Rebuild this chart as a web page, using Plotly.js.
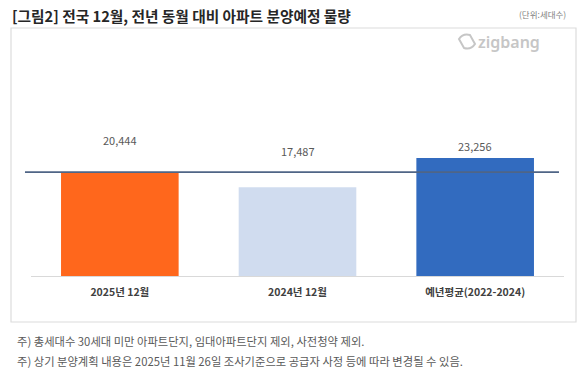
<!DOCTYPE html>
<html>
<head>
<meta charset="utf-8">
<script src="https://cdn.plot.ly/plotly-3.0.1.min.js"></script>
<style>html,body{margin:0;padding:0;background:#fff;}#chart{width:580px;height:372px;}</style>
</head>
<body>
<div id="chart"></div>
<script>
const categories = ["2025년 12월", "2024년 12월", "예년평균(2022-2024)"];
const values = [20444, 17487, 23256];
const valueLabels = ["20,444", "17,487", "23,256"];
const titleText = "[그림2] 전국 12월, 전년 동월 대비 아파트 분양예정 물량";
const unitText = "(단위:세대수)";
const notes = [
  "주) 총세대수 30세대 미만 아파트단지, 임대아파트단지 제외, 사전청약 제외.",
  "주) 상기 분양계획 내용은 2025년 11월 26일 조사기준으로 공급자 사정 등에 따라 변경될 수 있음."
];

const barColors = ["#FF671C", "#D0DCEF", "#326BBF"];
const labelShift = [30, 34, 10];
const FONT = "'Noto Sans CJK KR', 'Noto Sans', sans-serif";

const trace = {
  type: "bar",
  x: categories,
  y: values,
  marker: {color: barColors, line: {width: 0}},
  hoverinfo: "skip",
  showlegend: false
};

const annotations = categories.map((c, i) => ({
  x: c, y: values[i], xref: "x", yref: "y",
  text: valueLabels[i], showarrow: false,
  yanchor: "bottom", yshift: labelShift[i] - 8,
  font: {family: FONT, size: 11, color: "#595959"}
}));

annotations.push(
  {xref: "paper", yref: "paper", x: 0, y: 1, xanchor: "left", yanchor: "middle",
   text: "<b>" + titleText + "</b>", showarrow: false,
   font: {family: FONT, size: 14.7, color: "#262626"}},
  {xref: "paper", yref: "paper", x: 1, y: 1, xanchor: "right", yanchor: "middle",
   text: unitText, showarrow: false,
   font: {family: FONT, size: 8.5, color: "#7f7f7f"}},
  {xref: "paper", yref: "paper", x: 0.99, y: 1, xanchor: "right", yanchor: "middle",
   text: "zigbang", showarrow: false,
   font: {family: "'Noto Sans', sans-serif", size: 16, color: "#c6c6c6", weight: 600}}
);
notes.forEach((n, i) => annotations.push({
  xref: "paper", yref: "paper", x: 0, y: 0, xanchor: "left", yanchor: "middle",
  text: n, showarrow: false,
  font: {family: FONT, size: 11.3, color: "#595959"}
}));

const layout = {
  width: 580, height: 372,
  margin: {l: 31, r: 16, t: 50, b: 96},
  paper_bgcolor: "#ffffff", plot_bgcolor: "#ffffff",
  bargap: 0.338,
  xaxis: {
    type: "category", showgrid: false, zeroline: false,
    showline: true, linecolor: "#d9d9d9", linewidth: 1,
    ticks: "", ticklabelstandoff: 6,
    tickfont: {family: FONT, size: 10.5, color: "#404040", weight: "bold"},
    fixedrange: true
  },
  yaxis: {
    range: [0, 44500], visible: false, showgrid: false, zeroline: false, fixedrange: true
  },
  annotations: annotations,
  shapes: [
    {type: "line", xref: "paper", yref: "y", x0: -0.0113, x1: 0.9906, y0: values[0], y1: values[0],
     line: {color: "#4f6586", width: 1.6}, layer: "above"}
  ]
};

const plotH = layout.height - layout.margin.t - layout.margin.b;
const plotL = layout.margin.l, plotW = layout.width - layout.margin.l - layout.margin.r;
const px = v => (v - plotL) / plotW;
const py = v => (layout.height - layout.margin.b - v) / plotH;

annotations[3].x = px(10); annotations[3].y = py(15);
annotations[4].x = px(568); annotations[4].y = py(14);
annotations[5].x = px(542); annotations[5].y = py(42);
annotations[6].x = px(15); annotations[6].y = py(341);
annotations[7].x = px(15); annotations[7].y = py(361);

layout.shapes.push(
  {type: "rect", xref: "paper", yref: "paper", x0: px(11), x1: px(576), y0: py(322), y1: py(28),
   line: {color: "#dcdcdc", width: 1.2}, fillcolor: "rgba(0,0,0,0)", layer: "below"},
  {type: "path", xref: "paper", yref: "paper",
   path: "M" + px(459) + "," + py(39) + " Q" + px(463) + "," + py(33) + " " + px(470) + "," + py(35) +
         " L" + px(475) + "," + py(44) + " Q" + px(471) + "," + py(50) + " " + px(464) + "," + py(48) + " Z",
   line: {color: "#c6c6c6", width: 2}, fillcolor: "rgba(0,0,0,0)"}
);

Plotly.newPlot("chart", [trace], layout, {displayModeBar: false, staticPlot: true});
</script>
</body>
</html>
